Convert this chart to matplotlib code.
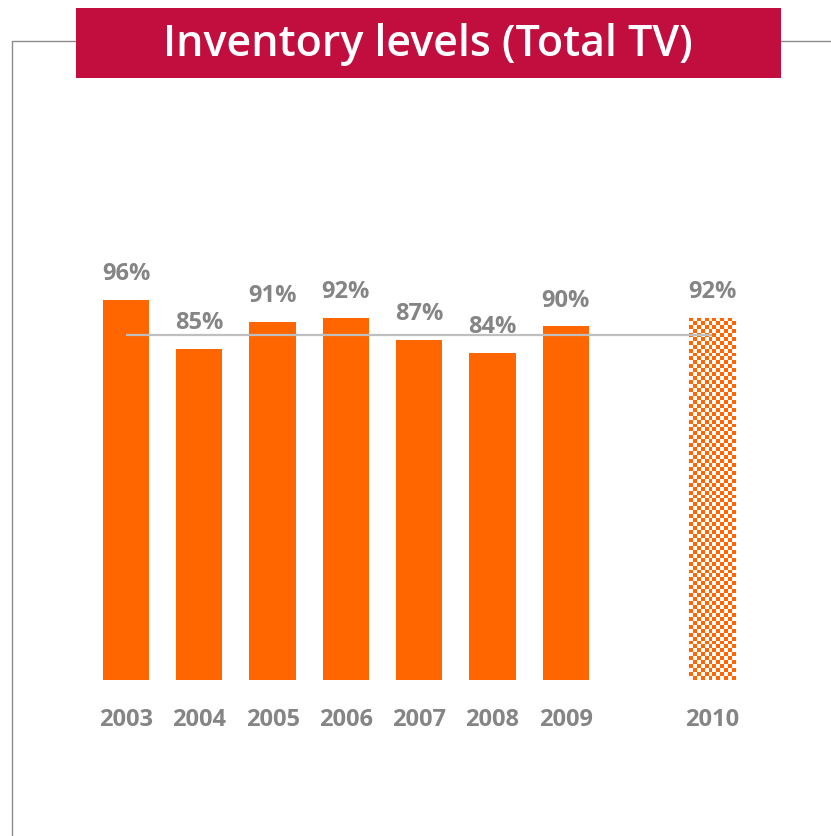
import numpy as np
import matplotlib
matplotlib.use("Agg")
import matplotlib.pyplot as plt
from matplotlib.patches import Rectangle
from matplotlib.lines import Line2D

# =========================
# Data
# =========================
years = ["2003", "2004", "2005", "2006", "2007", "2008", "2009", "2010"]
levels = [96, 85, 91, 92, 87, 84, 90, 92]
positions = [0, 1, 2, 3, 4, 5, 6, 8]
forecast = [False, False, False, False, False, False, False, True]
ref_level = 88

title = "Inventory levels (Total TV)"

orange = "#FF6600"
grey_txt = "#858585"
title_red = "#C20E3F"

plt.rcParams["font.family"] = ["Open Sans", "DejaVu Sans"]

W, H = 831, 836
fig = plt.figure(figsize=(W / 100, H / 100), dpi=100)


def fx(px):
    return px / W


def fy(py):
    return 1 - py / H


# axes placed so that 10 -> y=680 and 100 -> y=282
ax = fig.add_axes([fx(89.35), fy(680), fx(749 - 89.35), fy(282.3) - fy(680)])
ax.set_xlim(-0.5, 8.5)
ax.set_ylim(10, 100)
ax.axis("off")

bar_w = 0.63
for year, pos, val, fc in zip(years, positions, levels, forecast):
    if not fc:
        ax.bar(pos, val - 10, bottom=10, width=bar_w, color=orange, zorder=2)
    else:
        b = ax.bar(pos, val - 10, bottom=10, width=bar_w, color="white", zorder=2)[0]
        # checkered fill clipped to the bar
        nx, ny = 12, 92
        checker = (np.add.outer(np.arange(ny), np.arange(nx)) % 2).astype(float)
        cmap = matplotlib.colors.ListedColormap([orange, "white"])
        im = ax.imshow(checker, cmap=cmap, aspect="auto", interpolation="nearest",
                       extent=(pos - bar_w / 2, pos + bar_w / 2, 10, val),
                       zorder=2.5)
        im.set_clip_path(b)

    ax.annotate(f"{val}%", (pos, val), xytext=(0, 18.7), textcoords="offset points",
                ha="center", va="center", fontsize=17, fontweight="bold",
                color=grey_txt)
    ax.annotate(year, (pos, 10), xytext=(0, -28.8), textcoords="offset points",
                ha="center", va="center", fontsize=17, fontweight="bold",
                color=grey_txt, annotation_clip=False)

ax.plot([positions[0], positions[-1]], [ref_level, ref_level], color="#BFBFBF",
        lw=1.6, zorder=3, solid_capstyle="butt")

ax.set_xlim(-0.5, 8.5)
ax.set_ylim(10, 100)

# frame lines
frame = "#8C8C8C"
fig.add_artist(Line2D([fx(12), fx(12), fx(76)], [0, fy(41), fy(41)],
                      color=frame, lw=1))
fig.add_artist(Line2D([fx(781), 1], [fy(41), fy(41)], color=frame, lw=1))

# title box
fig.add_artist(Rectangle((fx(76), fy(78)), fx(781 - 76), fy(8) - fy(78),
                         transform=fig.transFigure, facecolor=title_red,
                         edgecolor="none", zorder=5))
fig.text(fx(428), fy(44), title, ha="center", va="center", color="white",
         fontsize=31, fontweight="semibold", zorder=6)

fig.savefig("out.png", dpi=100)
